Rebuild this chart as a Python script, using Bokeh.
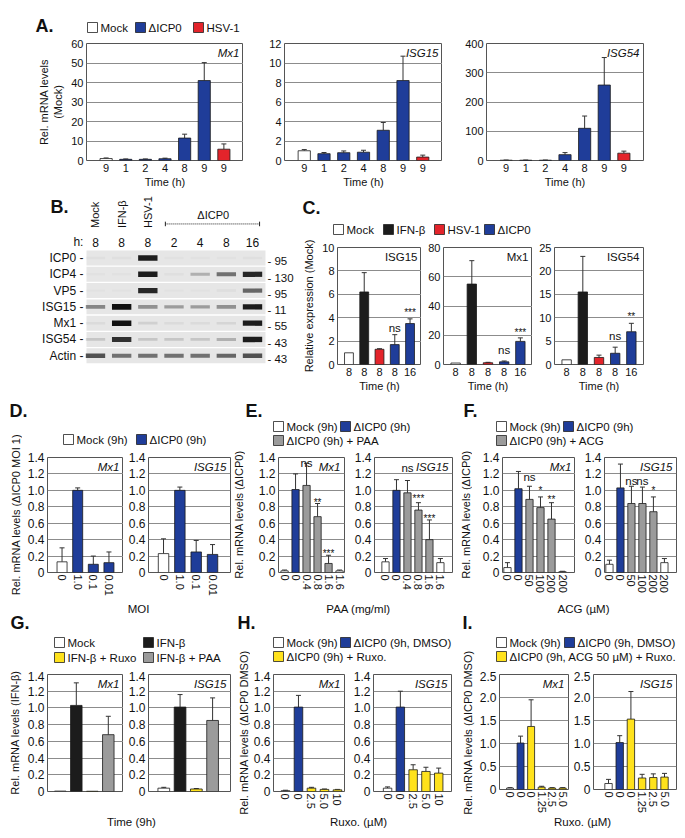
import math
from bokeh.plotting import figure
from bokeh.models import Range1d, FixedTicker, ColumnDataSource, Whisker, TeeHead, Label
from bokeh.layouts import row, column
from bokeh.embed import file_html
from bokeh.resources import INLINE
from bokeh.core.properties import value

FONT = "Liberation Sans"
COL = {"mock": "#ffffff", "dicp0": "#1f3d99", "hsv": "#e3242b", "ifn": "#1c1c1c",
       "paa": "#9b9b9b", "ruxo": "#ffe21c"}

# ---------------- DATA ----------------
# Panel A
a_time_labels = ["9", "1", "2", "4", "8", "9", "9"]
a_groups = ["mock", "dicp0", "dicp0", "dicp0", "dicp0", "dicp0", "hsv"]
a_mx1 = [1.0, 0.6, 0.6, 0.9, 11.5, 41.0, 5.8]
a_mx1_err = [0.3, 0.2, 0.2, 0.3, 2.0, 9.2, 2.7]
a_isg15 = [1.0, 0.7, 0.8, 0.85, 3.1, 8.2, 0.35]
a_isg15_err = [0.12, 0.12, 0.18, 0.2, 0.8, 2.5, 0.2]
a_isg54 = [1.0, 1.0, 1.0, 20.0, 110.0, 258.0, 25.0]
a_isg54_err = [0.5, 0.5, 0.5, 7.0, 42.0, 94.0, 7.0]
a_legend = [("mock", "Mock"), ("dicp0", "ΔICP0"), ("hsv", "HSV-1")]

# Panel B (western blot)
blot_top_labels = ["Mock", "IFN-β", "HSV-1"]
blot_group_label = "ΔICP0"
blot_hours = ["8", "8", "8", "2", "4", "8", "16"]
blot_proteins = ["ICP0", "ICP4", "VP5", "ISG15", "Mx1", "ISG54", "Actin"]
blot_mw = ["95", "130", "95", "11", "55", "43", "43"]
blot_icp0 = [0.03, 0.03, 0.95, 0.02, 0.02, 0.02, 0.03]
blot_icp4 = [0.02, 0.02, 0.95, 0.03, 0.25, 0.55, 0.9]
blot_vp5 = [0.02, 0.02, 0.9, 0.02, 0.02, 0.04, 0.6]
blot_isg15 = [0.45, 1.0, 0.4, 0.35, 0.35, 0.4, 0.95]
blot_mx1 = [0.05, 1.0, 0.1, 0.05, 0.05, 0.08, 0.95]
blot_isg54 = [0.15, 0.85, 0.15, 0.15, 0.15, 0.25, 0.95]
blot_actin = [0.7, 0.55, 0.55, 0.55, 0.55, 0.6, 0.7]

# Panel C
c_time_labels = ["8", "8", "8", "8", "16"]
c_groups = ["mock", "ifn", "hsv", "dicp0", "dicp0"]
c_isg15 = [1.0, 6.2, 1.3, 1.7, 3.5]
c_isg15_err = [0.0, 1.65, 0.05, 0.85, 0.4]
c_isg15_sig = [(3, "ns", 3.15), (4, "***", 4.7)]
c_mx1 = [1.0, 55.0, 1.2, 1.8, 15.8]
c_mx1_err = [0.0, 16.0, 0.3, 0.6, 2.4]
c_mx1_sig = [(3, "ns", 9.6), (4, "***", 24.0)]
c_isg54 = [1.0, 15.5, 1.5, 2.4, 7.0]
c_isg54_err = [0.0, 7.6, 0.5, 1.3, 1.8]
c_isg54_sig = [(3, "ns", 6.0), (4, "**", 10.9)]
c_legend = [("mock", "Mock"), ("ifn", "IFN-β"), ("hsv", "HSV-1"), ("dicp0", "ΔICP0")]

# Panel D
d_labels = ["0", "1.0", "0.1", "0.01"]
d_groups = ["mock", "dicp0", "dicp0", "dicp0"]
d_mx1 = [0.13, 1.0, 0.1, 0.12]
d_mx1_err = [0.17, 0.03, 0.1, 0.13]
d_isg15 = [0.23, 1.0, 0.25, 0.22]
d_isg15_err = [0.18, 0.04, 0.14, 0.12]
d_legend = [("mock", "Mock (9h)"), ("dicp0", "ΔICP0 (9h)")]

# Panel E
e_labels = ["0", "0", "0.4", "0.8", "1.6", "1.6"]
e_groups = ["mock", "dicp0", "paa", "paa", "paa", "mock"]
e_mx1 = [0.02, 1.01, 1.06, 0.68, 0.11, 0.02]
e_mx1_err = [0.01, 0.19, 0.27, 0.16, 0.10, 0.01]
e_mx1_sig = [(2, "ns", 1.33), (3, "**", 0.89), (4, "***", 0.27)]
e_isg15 = [0.13, 1.0, 0.97, 0.76, 0.4, 0.12]
e_isg15_err = [0.04, 0.13, 0.15, 0.09, 0.24, 0.05]
e_isg15_sig = [(2, "ns", 1.27), (3, "***", 0.94), (4, "***", 0.70)]
e_legend = [("mock", "Mock (9h)"), ("dicp0", "ΔICP0 (9h)"), ("paa", "ΔICP0 (9h) + PAA")]

# Panel F
f_labels = ["0", "0", "50", "100", "200", "200"]
f_groups = ["mock", "dicp0", "paa", "paa", "paa", "mock"]
f_mx1 = [0.06, 1.02, 0.89, 0.79, 0.65, 0.01]
f_mx1_err = [0.06, 0.21, 0.16, 0.13, 0.2, 0.005]
f_mx1_sig = [(2, "ns", 1.16), (3, "*", 1.04), (4, "**", 0.93)]
f_isg15 = [0.1, 1.03, 0.84, 0.84, 0.74, 0.12]
f_isg15_err = [0.05, 0.29, 0.21, 0.2, 0.18, 0.05]
f_isg15_sig = [(2, "ns", 1.11), (3, "ns", 1.11), (4, "*", 1.04)]
f_legend = [("mock", "Mock (9h)"), ("dicp0", "ΔICP0 (9h)"), ("paa", "ΔICP0 (9h) + ACG")]

# Panel G
g_labels = ["", "", "", ""]
g_groups = ["mock", "ifn", "ruxo", "paa"]
g_mx1 = [0.005, 1.03, 0.003, 0.68]
g_mx1_err = [0.0, 0.27, 0.0, 0.22]
g_isg15 = [0.04, 1.01, 0.03, 0.85]
g_isg15_err = [0.01, 0.15, 0.005, 0.27]
g_legend = [("mock", "Mock"), ("ifn", "IFN-β"), ("ruxo", "IFN-β + Ruxo"), ("paa", "IFN-β + PAA")]

# Panel H
h_labels = ["0", "0", "2.5", "5.0", "10"]
h_groups = ["mock", "dicp0", "ruxo", "ruxo", "ruxo"]
h_mx1 = [0.01, 1.01, 0.04, 0.025, 0.02]
h_mx1_err = [0.005, 0.14, 0.01, 0.005, 0.005]
h_isg15 = [0.04, 1.01, 0.26, 0.24, 0.22]
h_isg15_err = [0.015, 0.19, 0.06, 0.05, 0.06]
h_legend = [("mock", "Mock (9h)"), ("dicp0", "ΔICP0 (9h, DMSO)"), ("ruxo", "ΔICP0 (9h) + Ruxo.")]

# Panel I
i_labels = ["0", "0", "0", "1.25", "2.5", "5.0"]
i_groups = ["mock", "dicp0", "ruxo", "ruxo", "ruxo", "ruxo"]
i_mx1 = [0.03, 1.01, 1.37, 0.05, 0.03, 0.03]
i_mx1_err = [0.01, 0.15, 0.58, 0.02, 0.01, 0.01]
i_isg15 = [0.13, 1.02, 1.53, 0.25, 0.26, 0.27]
i_isg15_err = [0.09, 0.15, 0.6, 0.08, 0.08, 0.08]
i_legend = [("mock", "Mock (9h)"), ("dicp0", "ΔICP0 (9h, DMSO)"), ("ruxo", "ΔICP0 (9h, ACG 50 µM) + Ruxo.")]

# Axis ticks
ticks_a_mx1 = [0, 10, 20, 30, 40, 50, 60]
ticks_a_isg15 = [0, 2, 4, 6, 8, 10, 12]
ticks_a_isg54 = [0, 100, 200, 300, 400]
ticks_c_isg15 = [0, 2, 4, 6, 8, 10]
ticks_c_mx1 = [0, 20, 40, 60, 80]
ticks_c_isg54 = [0, 5, 10, 15, 20, 25]
ticks_rel = [0, 0.2, 0.4, 0.6, 0.8, 1.0, 1.2, 1.4]
ticks_rel_labels = ["0", "0.2", "0.4", "0.6", "0.8", "1.0", "1.2", "1.4"]
ticks_i = [0, 0.5, 1.0, 1.5, 2.0, 2.5]
ticks_i_labels = ["0", "0.5", "1.0", "1.5", "2.0", "2.5"]


# ---------------- HELPERS ----------------
def style_axes(p, tick_fs, lab_fs):
    for ax in p.axis:
        ax.axis_line_color = None
        ax.major_tick_line_color = None
        ax.minor_tick_line_color = None
        ax.major_tick_out = 0
        ax.major_tick_in = 0
        ax.minor_tick_out = 0
        ax.minor_tick_in = 0
        ax.major_label_text_font = FONT
        ax.major_label_text_font_size = tick_fs
        ax.major_label_text_color = "#111111"
        ax.axis_label_text_font = FONT
        ax.axis_label_text_font_size = lab_fs
        ax.axis_label_text_font_style = "normal"
        ax.axis_label_text_color = "#111111"


def bar_panel(vals, errs, groups, xlabels, *, w, h, bl, br, bt, bb, xr, yticks, ylabels=None,
              title="", italic=True, ylabel=None, xlabel=None, vertical=False, sig=(),
              bar_w=0.62, tick_fs="12px", xtick_fs="11px", lab_fs="11.5px", title_fs="11.5px"):
    n = len(vals)
    p = figure(width=w, height=h, output_backend="svg", toolbar_location=None, title=None,
               x_range=Range1d(xr[0], n - 1 + xr[1]), y_range=Range1d(yticks[0], yticks[-1]),
               min_border_left=bl, min_border_right=br, min_border_top=bt, min_border_bottom=bb)
    p.xgrid.visible = False
    p.ygrid.grid_line_color = "#8c8c8c"
    p.ygrid.grid_line_width = 1
    p.outline_line_color = "#555555"
    p.background_fill_color = "white"
    xs = list(range(n))
    src = ColumnDataSource(dict(x=xs, top=vals, color=[COL[g] for g in groups]))
    p.vbar(x="x", top="top", bottom=0, width=bar_w, fill_color="color",
           line_color="#1a1a1a", line_width=0.8, source=src)
    wx = [x for x, e in zip(xs, errs) if e > 0]
    wl = [v for v, e in zip(vals, errs) if e > 0]
    wu = [v + e for v, e in zip(vals, errs) if e > 0]
    if wx:
        wsrc = ColumnDataSource(dict(x=wx, lower=wl, upper=wu))
        p.add_layout(Whisker(source=wsrc, base="x", lower="lower", upper="upper",
                             dimension="height", line_color="#333333", line_width=1,
                             upper_head=TeeHead(size=5, line_color="#333333", line_width=1),
                             lower_head=TeeHead(size=0, line_color=None)))
    yax = p.yaxis[0]
    yax.ticker = FixedTicker(ticks=yticks)
    if ylabels is not None:
        yax.major_label_overrides = {t: l for t, l in zip(yticks, ylabels)}
    yax.major_label_standoff = 3
    if ylabel:
        yax.axis_label = ylabel
        yax.axis_label_standoff = 4
    xax = p.xaxis[0]
    xax.ticker = FixedTicker(ticks=xs)
    xax.major_label_overrides = {i: l for i, l in zip(xs, xlabels)}
    xax.major_label_standoff = 3
    if vertical:
        xax.major_label_orientation = "vertical"
        xax.major_label_standoff = 2
    if xlabel:
        xax.axis_label = xlabel
        xax.axis_label_standoff = 1
    style_axes(p, tick_fs, lab_fs)
    xax.major_label_text_font_size = xtick_fs
    if title:
        p.add_layout(Label(x=p.x_range.end, y=p.y_range.end, text=title, text_align="right",
                           text_baseline="top", x_offset=-4, y_offset=-3, text_font=FONT,
                           text_font_size=title_fs, text_color="#111111",
                           text_font_style="italic" if italic else "normal"))
    ns = [s for s in sig if "*" not in s[1]]
    st = [s for s in sig if "*" in s[1]]
    if ns:
        p.text(x=[s[0] for s in ns], y=[s[2] for s in ns], text=[s[1] for s in ns],
               text_align="center", text_baseline="middle", text_font=value(FONT),
               text_font_size="11.5px", text_color="#111111")
    if st:
        p.text(x=[s[0] for s in st], y=[s[2] for s in st], text=[s[1] for s in st],
               text_align="center", text_baseline="middle", text_font=value(FONT),
               text_font_size="10px", text_color="#111111", y_offset=3)
    return p


def band(w, h, x0, y0):
    p = figure(width=w, height=h, output_backend="svg", toolbar_location=None, title=None,
               x_range=Range1d(x0, x0 + w), y_range=Range1d(y0 + h, y0),
               min_border_left=0, min_border_right=0, min_border_top=0, min_border_bottom=0,
               x_axis_type=None, y_axis_type=None)
    p.grid.visible = False
    p.outline_line_color = None
    return p


def put_text(p, x, y, t, size="11.5px", align="left", bold=False, angle=0.0):
    p.text(x=[x], y=[y], text=[t], text_align=align, text_baseline="middle", angle=angle,
           text_font=value(FONT), text_font_size=size, text_color="#111111",
           text_font_style="bold" if bold else "normal")


def put_legend(p, entries, positions):
    xs, ys, cs, ls = [], [], [], []
    for (g, lab), (bx, by) in zip(entries, positions):
        xs.append(bx)
        ys.append(by)
        cs.append(COL[g])
        ls.append(lab)
    p.rect(x=[x + 5 for x in xs], y=ys, width=10, height=10, fill_color=cs,
           line_color="#222222", line_width=0.8)
    p.text(x=[x + 13 for x in xs], y=ys, text=ls, text_align="left", text_baseline="middle",
           text_font=value(FONT), text_font_size="11.5px", text_color="#111111")


def half_panel(x0, y0, W, hA, hB, wl, p1, p2, ylabel, lab_cx, lab_cy):
    """Header strip over full width, then a y-label strip beside a legend strip + two plots."""
    ph = p1.height
    headA = band(W, hA, x0, y0)
    ylab = band(wl, hB + ph, x0, y0 + hA)
    headB = band(W - wl, hB, x0 + wl, y0 + hA)
    put_text(ylab, lab_cx, lab_cy, ylabel, size="11px", align="center", angle=math.pi / 2)
    lay = column(headA, row(ylab, column(headB, row(p1, p2))))
    return lay, headA, headB


# ---------------- BAND A ----------------
bandA = band(685, 38, 0, 0)
put_text(bandA, 35, 25, "A.", size="18px", bold=True)
put_legend(bandA, a_legend, [(87, 27), (135, 27), (193, 27)])

# ---------------- ROW A ----------------
akw = dict(h=154, bt=5, bb=32, xr=(-1.0, 1.0), tick_fs="11px", xtick_fs="11px", lab_fs="11px",
           xlabel="Time (h)")
a1 = bar_panel(a_mx1, a_mx1_err, a_groups, a_time_labels, w=243, bl=86, br=0,
               yticks=ticks_a_mx1, title="Mx1", ylabel="Rel. mRNA levels\n(Mock)", **akw)
a2 = bar_panel(a_isg15, a_isg15_err, a_groups, a_time_labels, w=199, bl=41, br=0,
               yticks=ticks_a_isg15, title="ISG15", **akw)
a3 = bar_panel(a_isg54, a_isg54_err, a_groups, a_time_labels, w=243, bl=44, br=42,
               yticks=ticks_a_isg54, title="ISG54", **akw)

# ---------------- PANEL B (blot) ----------------
bfig = figure(width=300, height=203, output_backend="svg", toolbar_location=None, title=None,
              x_range=Range1d(-3.630, 7.834), y_range=Range1d(-1.94, 10.52),
              min_border_left=0, min_border_right=0, min_border_top=0, min_border_bottom=0,
              x_axis_type=None, y_axis_type=None)
bfig.grid.visible = False
bfig.outline_line_color = None
nlanes = len(blot_hours)
nrows = len(blot_proteins)
row_y = [nrows - 0.5 - k for k in range(nrows)]
bfig.rect(x=[(nlanes - 1) / 2 + 0.076] * nrows, y=row_y, width=6.84, height=0.92,
          fill_color="#e6e6e6", line_color=None)
intens = [blot_icp0, blot_icp4, blot_vp5, blot_isg15, blot_mx1, blot_isg54, blot_actin]
bx, by, bh, ba = [], [], [], []
for k, vals in enumerate(intens):
    for lane, v in enumerate(vals):
        bx.append(lane)
        by.append(row_y[k])
        bh.append(0.14 + 0.2 * v)
        ba.append(min(1.0, v))
bfig.rect(x=bx, y=by, width=0.74, height=bh, fill_color="#111111", fill_alpha=ba, line_color=None)
bfig.text(x=[-0.46] * nrows, y=row_y, text=[pname + " -" for pname in blot_proteins],
          text_align="right", text_baseline="middle", text_font=value(FONT),
          text_font_size="12px", text_color="#111111")
bfig.text(x=[6.57] * nrows, y=[yv - 0.2 for yv in row_y], text=["- " + m for m in blot_mw],
          text_align="left", text_baseline="middle", text_font=value(FONT),
          text_font_size="11.5px", text_color="#111111")
bfig.text(x=list(range(nlanes)), y=[7.48] * nlanes, text=blot_hours, text_align="center",
          text_baseline="middle", text_font=value(FONT), text_font_size="12px",
          text_color="#111111")
bfig.text(x=[-0.46], y=[7.48], text=["h:"], text_align="right", text_baseline="middle",
          text_font=value(FONT), text_font_size="12px", text_color="#111111")
bfig.text(x=list(range(len(blot_top_labels))), y=[8.34] * len(blot_top_labels),
          text=blot_top_labels, angle=math.pi / 2, text_align="left", text_baseline="middle",
          text_font=value(FONT), text_font_size="11px", text_color="#111111")
bfig.text(x=[4.5], y=[9.14], text=[blot_group_label], text_align="center",
          text_baseline="middle", text_font=value(FONT), text_font_size="11px",
          text_color="#111111")
bfig.line(x=[2.67, 6.27], y=[8.59, 8.59], line_color="#222222", line_dash="1 1", line_width=1)
bfig.segment(x0=[2.67, 6.27], y0=[8.45, 8.45], x1=[2.67, 6.27], y1=[8.73, 8.73],
             line_color="#222222", line_width=1)
bfig.text(x=[-1.72], y=[9.6], text=["B."], text_align="left", text_baseline="middle",
          text_font=value(FONT), text_font_size="18px", text_font_style="bold",
          text_color="#111111")

# ---------------- PANEL C ----------------
chead = band(385, 48, 300, 192)
put_text(chead, 302, 207, "C.", size="18px", bold=True)
put_legend(chead, c_legend, [(333, 229), (383, 229), (434, 229), (484, 229)])
ckw = dict(h=155, bt=7, bb=31, xr=(-0.75, 0.75), tick_fs="11px", xtick_fs="11px", lab_fs="11px",
           xlabel="Time (h)", italic=False, bar_w=0.58)
c1 = bar_panel(c_isg15, c_isg15_err, c_groups, c_time_labels, w=121, bl=33, br=0,
               yticks=ticks_c_isg15, title="ISG15", ylabel="Relative expression (Mock)",
               sig=c_isg15_sig, **ckw)
c2 = bar_panel(c_mx1, c_mx1_err, c_groups, c_time_labels, w=111, bl=22, br=0,
               yticks=ticks_c_mx1, title="Mx1", sig=c_mx1_sig, **ckw)
c3 = bar_panel(c_isg54, c_isg54_err, c_groups, c_time_labels, w=153, bl=22, br=42,
               yticks=ticks_c_isg54, title="ISG54", sig=c_isg54_sig, **ckw)

# ---------------- ROW D E F ----------------
rkw = dict(h=148, bt=5, bb=28, yticks=ticks_rel, ylabels=ticks_rel_labels, vertical=True)
d1 = bar_panel(d_mx1, d_mx1_err, d_groups, d_labels, w=101, bl=25, br=0, xr=(-0.93, 0.93),
               title="Mx1", bar_w=0.64, **rkw)
d2 = bar_panel(d_isg15, d_isg15_err, d_groups, d_labels, w=108, bl=25, br=1, xr=(-0.92, 1.1),
               title="ISG15", bar_w=0.64, **rkw)
e1 = bar_panel(e_mx1, e_mx1_err, e_groups, e_labels, w=101, bl=33, br=2, xr=(-0.55, 0.45),
               title="Mx1", bar_w=0.66, sig=e_mx1_sig, **rkw)
e2 = bar_panel(e_isg15, e_isg15_err, e_groups, e_labels, w=112, bl=28, br=6, xr=(-1.0, 1.1),
               title="ISG15", bar_w=0.66, sig=e_isg15_sig, **rkw)
f1 = bar_panel(f_mx1, f_mx1_err, f_groups, f_labels, w=103, bl=30, br=0, xr=(-0.45, 1.18),
               title="Mx1", bar_w=0.66, sig=f_mx1_sig, **rkw)
f2 = bar_panel(f_isg15, f_isg15_err, f_groups, f_labels, w=110, bl=29, br=9, xr=(-0.45, 1.1),
               title="ISG15", bar_w=0.66, sig=f_isg15_sig, **rkw)

# top halves: header strip 395..419, legend strip 419..452, plots 452..600
D_lay, D_hA, D_hB = half_panel(0, 395, 231, 24, 33, 22, d1, d2,
                               "Rel. mRNA levels (ΔICP0 MOI 1)", 15, 514)
E_lay, E_hA, E_hB = half_panel(231, 395, 227, 24, 33, 14, e1, e2,
                               "Rel. mRNA levels (ΔICP0)", 238, 514)
F_lay, F_hA, F_hB = half_panel(458, 395, 227, 24, 33, 14, f1, f2,
                               "Rel. mRNA levels (ΔICP0)", 465, 514)
put_text(D_hA, 9, 410, "D.", size="18px", bold=True)
put_text(E_hA, 245, 410, "E.", size="18px", bold=True)
put_text(F_hA, 463, 410, "F.", size="18px", bold=True)
put_legend(D_hB, d_legend, [(63, 439), (136, 439)])
put_legend(E_hB, e_legend, [(273, 426), (340, 426), (273, 440)])
put_legend(F_hB, f_legend, [(496, 426), (563, 426), (496, 440)])

# ---------------- ROW G H I ----------------
gkw = dict(h=144, bt=3, bb=24, vertical=True)
g1 = bar_panel(g_mx1, g_mx1_err, g_groups, g_labels, w=101, bl=25, br=0, xr=(-0.8, 0.95),
               yticks=ticks_rel, ylabels=ticks_rel_labels, title="Mx1", bar_w=0.72, **gkw)
g2 = bar_panel(g_isg15, g_isg15_err, g_groups, g_labels, w=108, bl=25, br=1, xr=(-0.94, 1.1),
               yticks=ticks_rel, ylabels=ticks_rel_labels, title="ISG15", bar_w=0.72, **gkw)
h1 = bar_panel(h_mx1, h_mx1_err, h_groups, h_labels, w=96, bl=23, br=2, xr=(-0.92, 0.54),
               yticks=ticks_rel, ylabels=ticks_rel_labels, title="Mx1", bar_w=0.66, **gkw)
h2 = bar_panel(h_isg15, h_isg15_err, h_groups, h_labels, w=112, bl=27, br=7, xr=(-1.1, 1.0),
               yticks=ticks_rel, ylabels=ticks_rel_labels, title="ISG15", bar_w=0.66, **gkw)
i1 = bar_panel(i_mx1, i_mx1_err, i_groups, i_labels, w=94, bl=20, br=2, xr=(-1.0, 0.55),
               yticks=ticks_i, ylabels=ticks_i_labels, title="Mx1", bar_w=0.66, **gkw)
i2 = bar_panel(i_isg15, i_isg15_err, i_groups, i_labels, w=115, bl=23, br=9, xr=(-1.34, 1.07),
               yticks=ticks_i, ylabels=ticks_i_labels, title="ISG15", bar_w=0.66, **gkw)

# bottom halves: header strip 600..634, legend strip 634..671, plots 671..815
G_lay, G_hA, G_hB = half_panel(0, 600, 231, 34, 37, 22, g1, g2,
                               "Rel. mRNA levels (IFN-β)", 14, 732)
H_lay, H_hA, H_hB = half_panel(231, 600, 227, 34, 37, 19, h1, h2,
                               "Rel. mRNA levels (ΔICP0 DMSO)", 243, 732)
I_lay, I_hA, I_hB = half_panel(458, 600, 227, 34, 37, 18, i1, i2,
                               "Rel. mRNA levels (ΔICP0 DMSO)", 467, 732)
put_text(G_hA, 138, 608, "MOI", align="center")
put_text(H_hA, 358, 608, "PAA (mg/ml)", align="center")
put_text(I_hA, 583, 608, "ACG (µM)", align="center")
put_text(G_hA, 10, 622, "G.", size="18px", bold=True)
put_text(H_hA, 237, 622, "H.", size="18px", bold=True)
put_text(I_hA, 462, 622, "I.", size="18px", bold=True)
put_legend(G_hB, g_legend, [(54, 642), (143, 642), (54, 657), (143, 657)])
put_legend(H_hB, h_legend, [(273, 642), (340, 642), (273, 656)])
put_legend(I_hB, i_legend, [(496, 642), (564, 642), (496, 656)])

# ---------------- BAND 4 ----------------
band4 = band(685, 23, 0, 815)
put_text(band4, 131, 821, "Time (9h)", align="center")
put_text(band4, 358, 821, "Ruxo. (µM)", align="center")
put_text(band4, 582, 821, "Ruxo. (µM)", align="center")

layout = column(
    bandA,
    row(a1, a2, a3),
    row(bfig, column(chead, row(c1, c2, c3))),
    row(column(D_lay, G_lay), column(E_lay, H_lay), column(F_lay, I_lay)),
    band4,
)

open("out.html", "w").write(file_html(layout, INLINE))
